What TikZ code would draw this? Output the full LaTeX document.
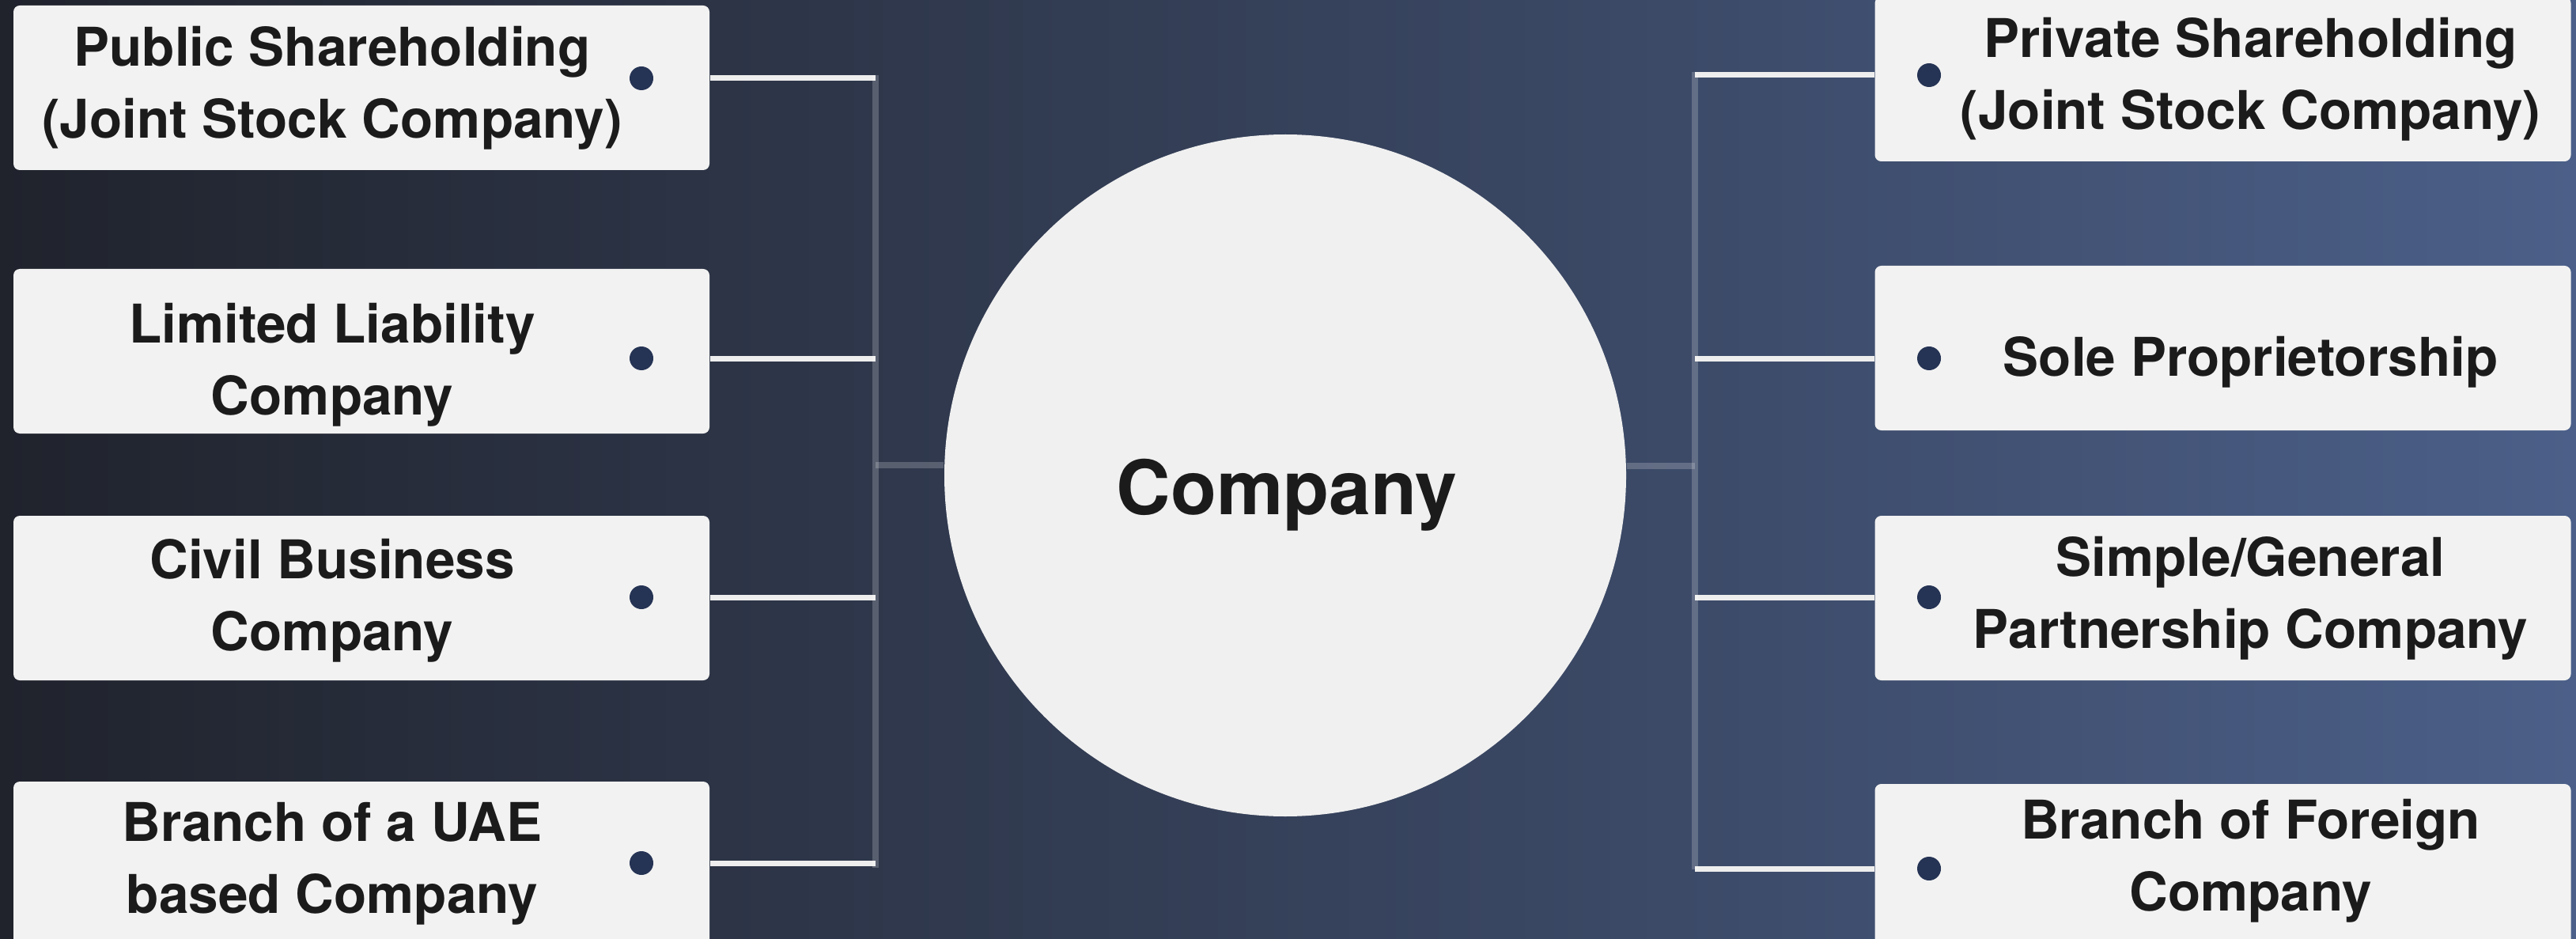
\documentclass[tikz,border=0pt]{standalone}
\usepackage{fontspec}
\setmainfont{TeX Gyre Heros}
\usepackage{xcolor}
\usetikzlibrary{positioning}
\definecolor{bgleft}{HTML}{20232C}
\definecolor{bgright}{HTML}{4B5F88}
\definecolor{boxgray}{HTML}{F2F2F2}
\definecolor{hubgray}{HTML}{F0F0F0}
\definecolor{dotblue}{HTML}{253354}
\definecolor{ink}{HTML}{1B1B1B}
\definecolor{linkwhite}{HTML}{EEEEEE}

\begin{document}
\begin{tikzpicture}[
  box/.style={fill=boxgray,rounded corners=0.08cm,minimum width=8.8cm,minimum height=2.08cm,inner sep=0pt},
  lbl/.style={font=\fontsize{19.2}{26}\selectfont\bfseries,text=ink,align=center},
  dot/.style={circle,fill=dotblue,inner sep=0pt,minimum size=0.3cm},
  link/.style={draw=linkwhite,line width=0.07cm},
  bus/.style={draw=white,draw opacity=0.2,line width=0.08cm}]
\shade[left color=bgleft,right color=bgright] (0,0) rectangle (32.57,-11.87);
\useasboundingbox (0,0) rectangle (32.57,-11.87);

\node[box] (pub) at (4.57,-1.11) {};
\node[box] (llc) at (4.57,-4.44) {};
\node[box] (civ) at (4.57,-7.56) {};
\node[box] (uae) at (4.57,-10.92) {};
\node[box] (pvt) at (28.105,-1.00) {};
\node[box] (sole) at (28.105,-4.40) {};
\node[box] (gen) at (28.105,-7.56) {};
\node[box] (frn) at (28.105,-10.95) {};

\node[lbl] at ([xshift=-0.37cm]pub.center) {Public Shareholding\\(Joint Stock Company)};
\node[lbl] at ([xshift=-0.37cm,yshift=-0.17cm]llc.center) {Limited Liability\\Company};
\node[lbl] at ([xshift=-0.37cm,yshift=-0.03cm]civ.center) {Civil Business\\Company};
\node[lbl] at ([xshift=-0.37cm]uae.center) {Branch of a UAE\\based Company};
\node[lbl] at ([xshift=0.35cm]pvt.center) {Private Shareholding\\(Joint Stock Company)};
\node[lbl] at ([xshift=0.35cm,yshift=-0.18cm]sole.center) {Sole Proprietorship};
\node[lbl] at ([xshift=0.35cm]gen.center) {Simple/General\\Partnership Company};
\node[lbl] at ([xshift=0.35cm,yshift=0.07cm]frn.center) {Branch of Foreign\\Company};

\node[dot] (pubdot) at (8.11,-0.99) {};
\node[dot] (llcdot) at (8.11,-4.53) {};
\node[dot] (civdot) at (8.11,-7.55) {};
\node[dot] (uaedot) at (8.11,-10.91) {};
\node[dot] (pvtdot) at (24.39,-0.95) {};
\node[dot] (soledot) at (24.39,-4.53) {};
\node[dot] (gendot) at (24.39,-7.55) {};
\node[dot] (frndot) at (24.39,-10.98) {};

\node[circle,fill=hubgray,minimum size=8.62cm,inner sep=0pt] (hub) at (16.25,-6.01) {};
\node[font=\fontsize{27}{32}\selectfont\bfseries,text=ink] (hubtext) at (16.27,-6.26) {Company};

\coordinate (ltop) at (11.07,-0.955);
\coordinate (lbot) at (11.07,-10.97);
\coordinate (lmid) at (11.07,-5.88);
\coordinate (rtop) at (21.43,-0.915);
\coordinate (rbot) at (21.43,-10.99);
\coordinate (rmid) at (21.43,-5.89);

\draw[link] (pub.east |- pubdot) -- (ltop |- pubdot);
\draw[link] (llc.east |- llcdot) -- (ltop |- llcdot);
\draw[link] (civ.east |- civdot) -- (ltop |- civdot);
\draw[link] (uae.east |- uaedot) -- (ltop |- uaedot);
\draw[link] (rtop |- pvtdot) -- (pvt.west |- pvtdot);
\draw[link] (rtop |- soledot) -- (sole.west |- soledot);
\draw[link] (rtop |- gendot) -- (gen.west |- gendot);
\draw[link] (rtop |- frndot) -- (frn.west |- frndot);

\draw[bus] (ltop) -- (lbot);
\draw[bus] (rtop) -- (rbot);
\draw[bus] (lmid) -- (lmid -| hub.west);
\draw[bus] (hub.east |- rmid) -- (rmid);
\end{tikzpicture}
\end{document}
